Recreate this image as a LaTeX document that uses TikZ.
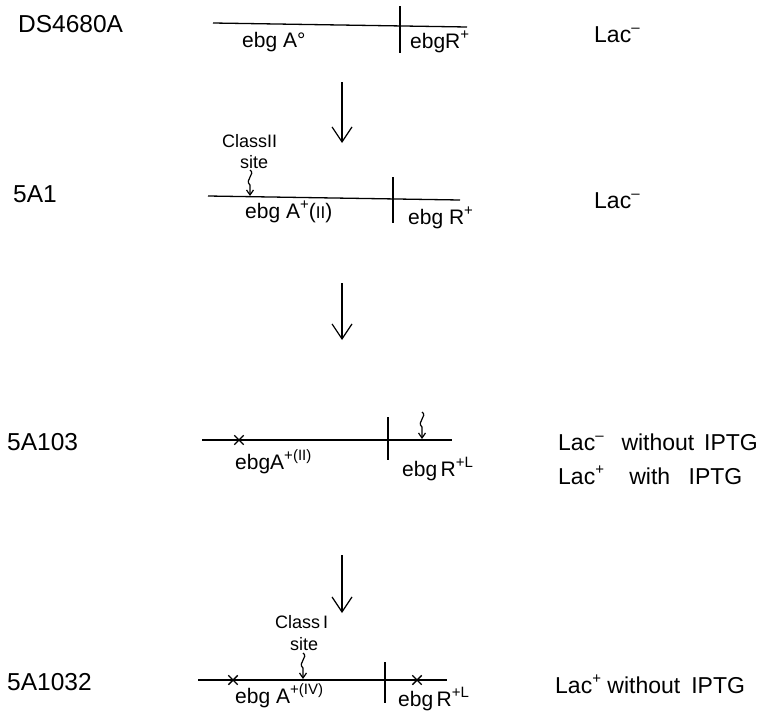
\documentclass[tikz,border=0pt]{standalone}
\usepackage{fontspec}
\setmainfont{Liberation Sans}
\usetikzlibrary{arrows.meta,shapes.misc}
\newcommand{\mysup}[1]{\raisebox{0.42em}{\fontsize{15}{15}\selectfont #1}}
\begin{document}
\begin{tikzpicture}[x=1pt,y=-1pt,
  strain/.style={font=\fontsize{24.5}{28}\selectfont, inner sep=0pt, anchor=base west},
  gene/.style={font=\fontsize{21}{24}\selectfont, inner sep=0pt, anchor=base west},
  pheno/.style={font=\fontsize{23}{28}\selectfont, inner sep=0pt, anchor=base west},
  classlbl/.style={font=\fontsize{18}{20}\selectfont, inner sep=0pt, anchor=base west},
  dna/.style={line width=1.3pt},
  boundary/.style={line width=1.3pt},
  stepdown/.style={line width=1.2pt, -{Straight Barb[length=15pt,width=20pt,line width=1.2pt]}},
  sitearrow/.style={line width=1.2pt, -{Straight Barb[length=5pt,width=7pt,line width=1.2pt]}},
  mutation/.style={draw, cross out, minimum size=8pt, inner sep=0pt, line width=1.4pt},
]
\useasboundingbox (0,0) rectangle (771,715);

% ---------- Row 1 : DS4680A ----------
\node[strain] (s1) at (18,32) {DS4680A};
\coordinate (l1a) at (213,23);
\coordinate (l1b) at (467,27);
\draw[dna] (l1a) -- (l1b);
\coordinate (t1a) at (400,6);
\coordinate (t1b) at (400,53);
\draw[boundary] (t1a) -- (t1b);
\node[gene] (g1a) at (242,47) {ebg A°};
\node[gene] (g1r) at (410,48) {ebgR\mysup{+}};
\node[pheno] (p1) at (594,42) {Lac\mysup{–}};

% arrow 1
\coordinate (a1s) at (342,82);
\coordinate (a1e) at (342,143);
\draw[stepdown] (a1s) -- (a1e);

% ---------- Row 2 : 5A1 ----------
\node[strain] (s2) at (13,202) {5A1};
\node[classlbl] (c2) at (222,147) {Class{\rmfamily II}};
\node[classlbl] (c2s) at (240,168) {site};
\coordinate (q2a) at (250,170);
\coordinate (q2b) at (250,196);
\draw[sitearrow] (q2a) .. controls (256,174) and (244,180) .. (250,185) -- (q2b);
\coordinate (l2a) at (208,196);
\coordinate (l2b) at (460,200);
\draw[dna] (l2a) -- (l2b);
\coordinate (t2a) at (393,177);
\coordinate (t2b) at (393,223);
\draw[boundary] (t2a) -- (t2b);
\node[gene] (g2a) at (245,218) {ebg A\mysup{+}({\rmfamily\fontsize{17}{19}\selectfont II})};
\node[gene] (g2r) at (408,224) {ebg R\mysup{+}};
\node[pheno] (p2) at (594,208) {Lac\mysup{–}};

% arrow 2
\coordinate (a2s) at (342,283);
\coordinate (a2e) at (342,340);
\draw[stepdown] (a2s) -- (a2e);

% ---------- Row 3 : 5A103 ----------
\node[strain] (s3) at (7,450) {5A103};
\coordinate (l3a) at (202,440);
\coordinate (l3b) at (452,440);
\draw[dna] (l3a) -- (l3b);
\node[mutation] (m3) at (239,440) {};
\coordinate (t3a) at (388,417);
\coordinate (t3b) at (388,460);
\draw[boundary] (t3a) -- (t3b);
\coordinate (q3a) at (422,412);
\coordinate (q3b) at (422,439);
\draw[sitearrow] (q3a) .. controls (428,416) and (416,422) .. (422,427) -- (q3b);
\node[gene] (g3a) at (235,469) {ebgA\mysup{+({\rmfamily II})}};
\node[gene] (g3r) at (402,476) {ebg\,R\mysup{+L}};
\node[pheno] (p3a) at (558,450) {Lac\mysup{–}\hspace{0.5em} without\hspace{0.15em} IPTG};
\node[pheno] (p3b) at (558,484) {Lac\mysup{+}\hspace{1.1em}with\hspace{0.8em}IPTG};

% arrow 3
\coordinate (a3s) at (342,555);
\coordinate (a3e) at (342,613);
\draw[stepdown] (a3s) -- (a3e);

% ---------- Row 4 : 5A1032 ----------
\node[strain] (s4) at (7,690) {5A1032};
\node[classlbl] (c4) at (275,628) {Class\,{\rmfamily I}};
\node[classlbl] (c4s) at (290,650) {site};
\coordinate (q4a) at (303,653);
\coordinate (q4b) at (303,679);
\draw[sitearrow] (q4a) .. controls (309,657) and (297,663) .. (303,668) -- (q4b);
\coordinate (l4a) at (198,680);
\coordinate (l4b) at (447,680);
\draw[dna] (l4a) -- (l4b);
\node[mutation] (m4a) at (233,680) {};
\node[mutation] (m4b) at (417,680) {};
\coordinate (t4a) at (385,662);
\coordinate (t4b) at (385,703);
\draw[boundary] (t4a) -- (t4b);
\node[gene] (g4a) at (235,703) {ebg A\mysup{+({\rmfamily IV})}};
\node[gene] (g4r) at (398,706) {ebg\,R\mysup{+L}};
\node[pheno] (p4) at (555,693) {Lac\mysup{+} without\hspace{0.2em} IPTG};
\end{tikzpicture}
\end{document}
